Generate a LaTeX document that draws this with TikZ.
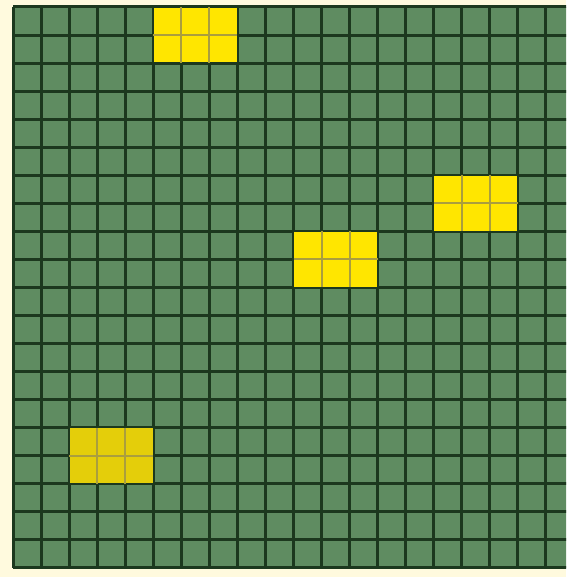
\documentclass[tikz,border=0pt]{standalone}
\usepackage{xcolor}
\usepackage{tikz}

\definecolor{paper}{RGB}{255,250,222}
\definecolor{cellgreen}{RGB}{95,140,97}
\definecolor{gridline}{RGB}{28,56,30}
\definecolor{litcell}{RGB}{255,230,0}
\definecolor{dimcell}{RGB}{228,206,10}
\definecolor{litline}{RGB}{170,158,62}

\begin{document}
\begin{tikzpicture}[
    x=1pt, y=1pt,
    board/.style={fill=cellgreen, draw=none},
    wire/.style={draw=gridline, line width=3pt},
    litwire/.style={draw=litline, line width=2pt}
]

% Canvas
\useasboundingbox (0,0) rectangle (566,577);
\fill[paper] (0,0) rectangle (566,577);
\begin{scope}
\clip (0,0) rectangle (566,577);

% Board
\fill[board] (13,9) rectangle (570,570);

% Grid lines
\foreach \i in {0,...,19}
    \draw[wire] ({13+\i*28.05},9) -- ({13+\i*28.05},570);
\foreach \j in {0,...,20}
    \draw[wire] (13,{9+\j*28.05}) -- (570,{9+\j*28.05});

% Lit blocks (column/row from top left)
\foreach \c/\r/\col in {5/0/litcell, 15/6/litcell, 10/8/litcell, 2/15/dimcell} {
    \fill[\col] ({13.6+\c*28.05},{569.4-\r*28.05}) rectangle ({12.4+(\c+3)*28.05},{570.6-(\r+2)*28.05});
    \draw[litwire] ({13+(\c+1)*28.05},{570-\r*28.05}) -- ++(0,-56.1);
    \draw[litwire] ({13+(\c+2)*28.05},{570-\r*28.05}) -- ++(0,-56.1);
    \draw[litwire] ({13+\c*28.05},{570-(\r+1)*28.05}) -- ++(84.15,0);
}
\end{scope}

\end{tikzpicture}
\end{document}
